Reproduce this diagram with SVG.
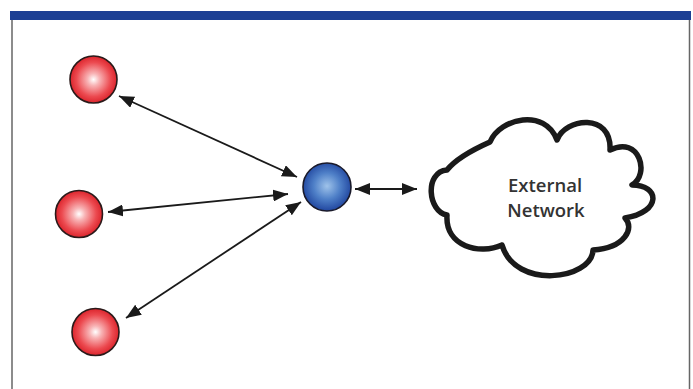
<svg xmlns="http://www.w3.org/2000/svg" width="693" height="389" viewBox="0 0 693 389">
<defs>
<radialGradient id="red" cx="50%" cy="50%" r="52%">
<stop offset="0" stop-color="#ffffff"/>
<stop offset="0.25" stop-color="#f8b3b5"/>
<stop offset="0.7" stop-color="#ec4a50"/>
<stop offset="1" stop-color="#d91f27"/>
</radialGradient>
<radialGradient id="blue" cx="50%" cy="48%" r="55%">
<stop offset="0" stop-color="#9fc3ea"/>
<stop offset="0.5" stop-color="#4f80c8"/>
<stop offset="1" stop-color="#1b3f9a"/>
</radialGradient>
<marker id="ah" viewBox="0 0 15 12" refX="15" refY="6" markerWidth="15" markerHeight="12" markerUnits="userSpaceOnUse" orient="auto-start-reverse">
<path d="M0,0 L15,6 L0,12 Z" fill="#1a1a1a"/>
</marker>
<style>
.red{fill:url(#red);stroke:#2a1a1a;stroke-width:1.6}
.blue{fill:url(#blue);stroke:#1a1a2a;stroke-width:1.6}
.conn{stroke:#1a1a1a;stroke-width:1.8;fill:none;marker-start:url(#ah);marker-end:url(#ah)}
.lbl{font-family:"Open Sans","Liberation Sans",sans-serif;font-weight:600;font-size:18.5px;fill:#333333;text-anchor:middle}
</style>
</defs>
<rect width="693" height="389" fill="#ffffff"/>
<g id="frame">
<line x1="12" y1="15" x2="12" y2="389" stroke="#666" stroke-width="1.5"/>
<line x1="689.5" y1="15" x2="689.5" y2="389" stroke="#666" stroke-width="1.5"/>
<rect x="10" y="11" width="681" height="9" fill="#1c3f94"/>
</g>
<g id="connectors">
<line class="conn" x1="119" y1="96" x2="297" y2="177"/>
<line class="conn" x1="108" y1="212" x2="288" y2="194"/>
<line class="conn" x1="126" y1="318" x2="301" y2="202"/>
<line class="conn" x1="355" y1="189" x2="417" y2="189"/>
</g>
<g id="node-red1"><circle class="red" cx="93.5" cy="79.5" r="23.5"/></g>
<g id="node-red2"><circle class="red" cx="79" cy="214" r="23.5"/></g>
<g id="node-red3"><circle class="red" cx="95.5" cy="332" r="23.5"/></g>
<g id="node-hub"><circle class="blue" cx="327" cy="187" r="24"/></g>
<g id="node-cloud">
<path d="M447,170 C455,160 472,150 490,142 C500,118 545,108 557,140 C565,118 612,112 610,150 C640,135 650,175 632,185 C660,185 662,212 625,218 C635,228 625,248 593,250 C592,280 515,290 502,245 C480,255 445,247 447,215 C428,212 424,172 447,170 Z" fill="#ffffff" stroke="#1a1a1a" stroke-width="5.5" stroke-linejoin="round"/>
<text class="lbl" x="545" y="192">External</text>
<text class="lbl" x="546" y="217">Network</text>
</g>
</svg>
